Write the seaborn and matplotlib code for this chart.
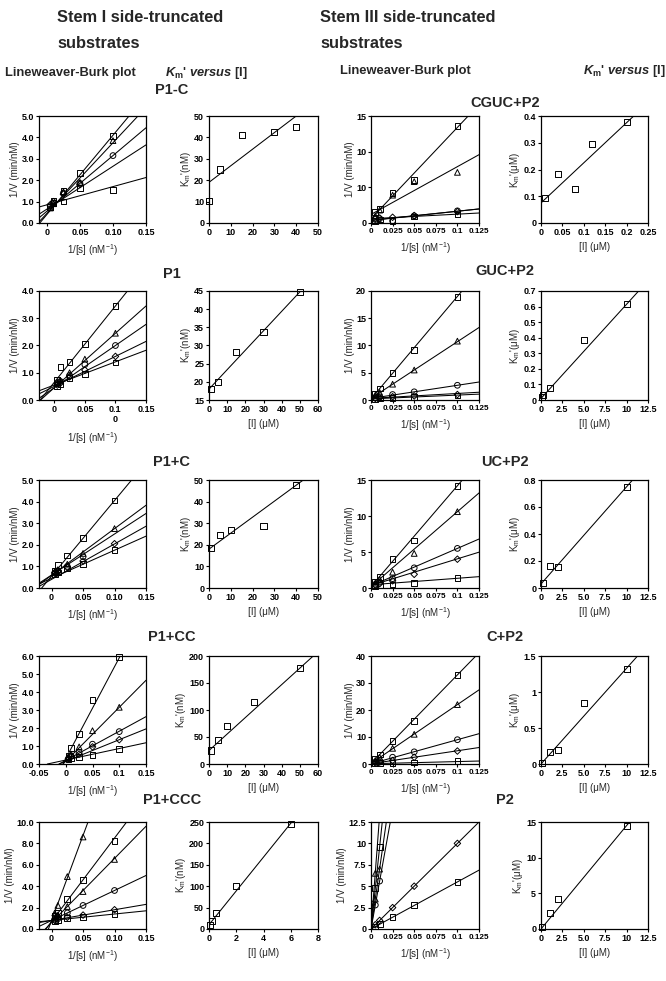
import numpy as np
import pandas as pd
import matplotlib
matplotlib.use("Agg")
import matplotlib.pyplot as plt
import seaborn as sns
from matplotlib import font_manager as fm

NAN = np.nan
LB_X = [0.005, 0.01, 0.025, 0.05, 0.1]

# ---------------- Stem I side-truncated ----------------
P1C_LB_Y = [[0.75, 0.95, 1.5, 2.35, 4.05],
            [0.7, 0.9, 1.45, 1.9, 3.85],
            [0.8, 0.9, 1.4, 1.85, 3.15],
            [0.85, 1.0, 1.35, 1.8, NAN],
            [0.75, 1.05, 1.0, 1.65, 1.55]]
P1C_LB_SLOPE = [37, 33, 26, 20, 8.5]
P1C_LB_INT = [0.4, 0.45, 0.55, 0.65, 0.85]
P1C_KM_X = [0, 5, 15, 30, 40]
P1C_KM_Y = [10.5, 25, 41, 42.5, 45]
P1C_KM_FIT = (0.775, 19)

P1_LB_Y = [[0.75, 1.22, 1.4, 2.05, 3.45],
           [0.65, 0.72, 1.0, 1.5, 2.45],
           [0.6, 0.68, 0.9, 1.3, 2.0],
           [0.55, 0.62, 0.85, 1.1, 1.6],
           [0.5, 0.58, 0.8, 0.95, 1.38]]
P1_LB_SLOPE = [28, 20, 15.5, 11, 8.5]
P1_LB_INT = [0.65, 0.45, 0.45, 0.5, 0.55]
P1_KM_X = [1, 5, 15, 30, 50]
P1_KM_Y = [18, 20, 28.3, 33.8, 44.6]
P1_KM_FIT = (0.535, 18)

P1pC_LB_Y = [[0.8, 1.05, 1.5, 2.3, 4.05],
             [0.75, 0.85, 1.1, 1.6, 2.75],
             [0.7, 0.8, 1.0, 1.45, NAN],
             [0.7, 0.75, 0.95, 1.25, 2.05],
             [0.65, 0.72, 0.9, 1.12, 1.75]]
P1pC_LB_SLOPE = [35, 21.6, 19, 16.4, 13]
P1pC_LB_INT = [0.55, 0.59, 0.6, 0.4, 0.45]
P1pC_KM_X = [1, 5, 10, 25, 40]
P1pC_KM_Y = [18.5, 24.5, 27, 28.5, 47.5]
P1pC_KM_FIT = (0.74, 18)

P1pCC_LB_Y = [[0.45, 0.9, 1.65, 3.55, 5.95],
              [0.35, 0.55, 0.95, 1.85, 3.15],
              [0.3, 0.45, 0.65, 1.1, 1.8],
              [0.3, 0.4, 0.55, 0.95, 1.35],
              [0.25, 0.3, 0.4, 0.5, 0.85]]
P1pCC_LB_SLOPE = [56, 30, 16.2, 12, 6.4]
P1pCC_LB_INT = [0.3, 0.15, 0.2, 0.15, 0.22]
P1pCC_KM_X = [1, 5, 10, 25, 50]
P1pCC_KM_Y = [25, 45, 70, 115, 178]
P1pCC_KM_FIT = (3.05, 25)

P1pCCC_LB_Y = [[1.5, 2.2, 4.9, 8.6, NAN],
               [1.2, 1.5, 2.8, 4.6, 8.2],
               [1.0, 1.3, 2.1, 3.5, 6.5],
               [0.9, 1.1, 1.5, 2.2, 3.6],
               [0.8, 0.9, 1.1, 1.3, 1.8],
               [0.75, 0.85, 1.0, 1.1, 1.4]]
P1pCCC_LB_SLOPE = [159, 78, 60, 28, 10, 6]
P1pCCC_LB_INT = [0.8, 0.7, 0.6, 0.8, 0.8, 0.8]
P1pCCC_KM_X = [0.1, 0.2, 0.5, 2, 6]
P1pCCC_KM_Y = [10, 18, 38, 100, 245]
P1pCCC_KM_FIT = (39.5, 10)

# ---------------- Stem III side-truncated ----------------
CGUC_LB_Y = [[1.5, 2.0, 4.2, 6.0, 13.6],
             [1.0, 1.8, 3.9, 5.8, 7.1],
             [0.5, 0.6, 0.3, 1.0, 1.7],
             [0.6, 0.7, 0.8, 1.05, 1.6],
             [0.3, 0.5, 0.25, 0.9, 1.2]]
CGUC_LB_SLOPE = [128, 67, 13, 12.5, 6.4]
CGUC_LB_INT = [0.6, 1.2, 0.35, 0.4, 0.6]
CGUC_KM_X = [0.01, 0.04, 0.08, 0.12, 0.2]
CGUC_KM_Y = [0.095, 0.183, 0.127, 0.296, 0.377]
CGUC_KM_FIT = (1.5, 0.075)

GUC_LB_Y = [[1.1, 2.1, 4.9, 9.2, 18.9],
            [0.9, 1.4, 2.9, 5.5, 10.8],
            [0.45, 0.6, 1.0, 1.5, 2.7],
            [0.3, 0.4, 0.6, 0.75, 1.0],
            [0.2, 0.3, 0.35, 0.5, 0.85]]
GUC_LB_SLOPE = [188, 104, 24, 9, 7]
GUC_LB_INT = [0.2, 0.3, 0.3, 0.3, 0.2]
GUC_KM_X = [0.1, 0.2, 1, 5, 10]
GUC_KM_Y = [0.02, 0.035, 0.08, 0.385, 0.615]
GUC_KM_FIT = (0.0605, 0.01)

UC_LB_Y = [[0.9, 1.5, 4.0, 6.6, 14.2],
           [0.7, 1.2, 2.2, 4.8, 10.6],
           [0.5, 0.8, 1.3, 2.8, 5.5],
           [0.4, 0.6, 1.0, 1.9, 4.0],
           [0.3, 0.4, 0.5, 0.7, 1.4]]
UC_LB_SLOPE = [140, 104, 52, 37, 9]
UC_LB_INT = [0.2, 0.2, 0.3, 0.35, 0.45]
UC_KM_X = [0.2, 1, 2, 10]
UC_KM_Y = [0.04, 0.16, 0.155, 0.75]
UC_KM_FIT = (0.072, 0.03)

C_LB_Y = [[2.0, 3.5, 8.5, 16, 33],
          [1.3, 2.5, 5.8, 11, 22],
          [0.7, 1.2, 2.5, 4.5, 9],
          [0.4, 0.7, 1.3, 2.5, 4.8],
          [0.2, 0.3, 0.4, 0.6, 1.0]]
C_LB_SLOPE = [328, 218, 89, 48, 8]
C_LB_INT = [0.2, 0.2, 0.1, 0.1, 0.1]
C_KM_X = [0.1, 1, 2, 5, 10]
C_KM_Y = [0.02, 0.17, 0.2, 0.85, 1.32]
C_KM_FIT = (0.133, 0.0)

P2_LB_Y = [[6.5, NAN, NAN, NAN, NAN],
           [4.8, 9.6, NAN, NAN, NAN],
           [3.5, 7.0, NAN, NAN, NAN],
           [2.8, 5.6, NAN, NAN, NAN],
           [0.5, 1.0, 2.5, 5.0, 10.0],
           [0.3, 0.55, 1.4, 2.8, 5.5]]
P2_LB_SLOPE = [1330, 960, 705, 560, 100, 55]
P2_LB_INT = [0, 0, 0, 0, 0, 0]
P2_KM_X = [0.1, 1, 2, 10]
P2_KM_Y = [0.3, 2.2, 4.2, 14.5]
P2_KM_FIT = (1.45, 0.0)

# ---------------- tick labels ----------------
F1 = lambda v: ["%.1f" % t for t in v]
XT_A = [0, 0.05, 0.1, 0.15]
XTL_A = ["0", "0.05", "0.10", "0.15"]
XTL_P1 = ["0", "0.05", "0.1\n0", "0.15"]
XT_CC = [-0.05, 0, 0.05, 0.1, 0.15]
XTL_CC = ["-0.05", "0", "0.05", "0.1", "0.15"]
XT_B = [0, 0.025, 0.05, 0.075, 0.1, 0.125]
XTL_B = ["0", "0.025", "0.05", "0.075", "0.1", "0.125"]
XT_I = [0, 2.5, 5, 7.5, 10, 12.5]
XTL_I = ["0", "2.5", "5.0", "7.5", "10", "12.5"]

# ---------------- style ----------------
sns.set_style("ticks")
names = {f.name for f in fm.fontManager.ttflist}
NARROW = "Liberation Sans Narrow" in names
FONT = "Liberation Sans Narrow" if NARROW else "Liberation Sans"
K = 1.0 if NARROW else 0.84
plt.rcParams["font.family"] = [FONT, "DejaVu Sans"]
plt.rcParams["font.weight"] = "bold"
plt.rcParams["mathtext.fontset"] = "custom"
plt.rcParams["mathtext.rm"] = FONT + ":bold"
plt.rcParams["mathtext.it"] = FONT + ":italic:bold"
plt.rcParams["mathtext.bf"] = FONT + ":bold"
plt.rcParams["mathtext.default"] = "regular"

W, H = 666, 981
fig = plt.figure(figsize=(W / 100, H / 100), dpi=100)
fig.patch.set_facecolor("white")

ROWS = [(116, 223), (291, 400), (480, 588), (656, 764), (822, 929)]
COLS = [(39, 146), (209, 318), (371, 479), (541, 648)]
TICK_FS = 6.5
LAB_FS = 7.0


def make_ax(r, c):
    (t, b), (l, rr) = ROWS[r], COLS[c]
    ax = fig.add_axes([l / W, 1 - b / H, (rr - l) / W, (b - t) / H])
    for s in ax.spines.values():
        s.set_linewidth(0.9)
        s.set_color("black")
    ax.tick_params(direction="out", length=2.5, width=0.8, pad=1,
                   labelsize=TICK_FS, colors="black")
    return ax


def finish(ax, xlim, ylim, xt, xtl, yt, ytl, xlabel, ylabel):
    ax.set_xlim(*xlim)
    ax.set_ylim(*ylim)
    ax.set_xticks(xt)
    ax.set_xticklabels(xtl)
    if len(xt) == 6 and xtl[1] == "0.025":
        for lab in ax.get_xticklabels():
            lab.set_fontsize(5.9)
    ax.set_yticks(yt)
    ax.set_yticklabels(ytl)
    ax.set_xlabel(xlabel if xlabel else "", fontsize=LAB_FS, labelpad=4)
    ax.set_ylabel(ylabel, fontsize=LAB_FS, labelpad=1)


LB_MARKERS = ["s", "^", "o", "D", "s"]
LB_MARKERS6 = ["^", "s", "^", "o", "D", "s"]


def draw_lb(r, c, Y, slopes, ints, xlim, ylim, xt, xtl, yt, ytl):
    ax = make_ax(r, c)
    mk = LB_MARKERS6 if len(Y) == 6 else LB_MARKERS
    for yv, m, b, k in zip(Y, slopes, ints, mk):
        ax.axline((0, b), slope=m, color="black", lw=0.75, zorder=2)
        df = pd.DataFrame({"x": LB_X, "y": yv}).dropna()
        sns.scatterplot(data=df, x="x", y="y", marker=k, s=17 if k != "D" else 11,
                        color="black", facecolor="none", edgecolor="black",
                        linewidth=0.7, ax=ax, zorder=3, clip_on=False)
    finish(ax, xlim, ylim, xt, xtl, yt, ytl,
           r"1/[s] (nM$^{-1}$)", "1/V (min/nM)")
    return ax


def draw_km(r, c, X, Y, fit, xlim, ylim, xt, xtl, yt, ytl, unit, xlabel=True):
    ax = make_ax(r, c)
    ax.axline((0, fit[1]), slope=fit[0], color="black", lw=0.75, zorder=2)
    df = pd.DataFrame({"x": X, "y": Y})
    sns.scatterplot(data=df, x="x", y="y", marker="s", s=19, color="black",
                    facecolor="none", edgecolor="black", linewidth=0.7,
                    ax=ax, zorder=3, clip_on=False)
    finish(ax, xlim, ylim, xt, xtl, yt, ytl,
           "[I] (\u03bcM)" if xlabel else "",
           r"$\mathregular{K_m}$'" + "(" + unit + ")")
    return ax


# Row 1
draw_lb(0, 0, P1C_LB_Y, P1C_LB_SLOPE, P1C_LB_INT, (-0.012, 0.15), (0, 5),
        XT_A, XTL_A, [0, 1, 2, 3, 4, 5], F1([0, 1, 2, 3, 4, 5]))
draw_km(0, 1, P1C_KM_X, P1C_KM_Y, P1C_KM_FIT, (0, 50), (0, 50),
        [0, 10, 20, 30, 40, 50], ["0", "10", "20", "30", "40", "50"],
        [0, 10, 20, 30, 40, 50], ["0", "10", "20", "30", "40", "50"], "nM",
        xlabel=False)
draw_lb(0, 2, CGUC_LB_Y, CGUC_LB_SLOPE, CGUC_LB_INT, (0, 0.125), (0, 15),
        XT_B, XTL_B, [0, 5, 10, 15], ["0", "10", "10", "15"])
draw_km(0, 3, CGUC_KM_X, CGUC_KM_Y, CGUC_KM_FIT, (0, 0.25), (0, 0.4),
        [0, 0.05, 0.1, 0.15, 0.2, 0.25], ["0", "0.05", "0.1", "0.15", "0.2", "0.25"],
        [0, 0.1, 0.2, 0.3, 0.4], ["0", "0.1", "0.2", "0.3", "0.4"], "\u03bcM")

# Row 2
draw_lb(1, 0, P1_LB_Y, P1_LB_SLOPE, P1_LB_INT, (-0.025, 0.15), (0, 4),
        XT_A, XTL_P1, [0, 1, 2, 3, 4], F1([0, 1, 2, 3, 4]))
draw_km(1, 1, P1_KM_X, P1_KM_Y, P1_KM_FIT, (0, 60), (15, 45),
        [0, 10, 20, 30, 40, 50, 60], ["0", "10", "20", "30", "40", "50", "60"],
        [15, 20, 25, 30, 35, 40, 45], ["15", "20", "25", "30", "35", "40", "45"], "nM")
draw_lb(1, 2, GUC_LB_Y, GUC_LB_SLOPE, GUC_LB_INT, (0, 0.125), (0, 20),
        XT_B, XTL_B, [0, 5, 10, 15, 20], ["0", "5", "10", "15", "20"])
draw_km(1, 3, GUC_KM_X, GUC_KM_Y, GUC_KM_FIT, (0, 12.5), (0, 0.7),
        XT_I, XTL_I, [0, 0.1, 0.2, 0.3, 0.4, 0.5, 0.6, 0.7],
        ["0", "0.1", "0.2", "0.3", "0.4", "0.5", "0.6", "0.7"], "\u03bcM")

# Row 3
draw_lb(2, 0, P1pC_LB_Y, P1pC_LB_SLOPE, P1pC_LB_INT, (-0.02, 0.15), (0, 5),
        XT_A, XTL_A, [0, 1, 2, 3, 4, 5], F1([0, 1, 2, 3, 4, 5]))
draw_km(2, 1, P1pC_KM_X, P1pC_KM_Y, P1pC_KM_FIT, (0, 50), (0, 50),
        [0, 10, 20, 30, 40, 50], ["0", "10", "20", "30", "40", "50"],
        [0, 10, 20, 30, 40, 50], ["0", "10", "20", "30", "40", "50"], "nM")
draw_lb(2, 2, UC_LB_Y, UC_LB_SLOPE, UC_LB_INT, (0, 0.125), (0, 15),
        XT_B, XTL_B, [0, 5, 10, 15], ["0", "5", "10", "15"])
draw_km(2, 3, UC_KM_X, UC_KM_Y, UC_KM_FIT, (0, 12.5), (0, 0.8),
        XT_I, XTL_I, [0, 0.2, 0.4, 0.6, 0.8], ["0", "0.2", "0.4", "0.6", "0.8"], "\u03bcM")

# Row 4
draw_lb(3, 0, P1pCC_LB_Y, P1pCC_LB_SLOPE, P1pCC_LB_INT, (-0.05, 0.15), (0, 6),
        XT_CC, XTL_CC, [0, 1, 2, 3, 4, 5, 6], F1([0, 1, 2, 3, 4, 5, 6]))
draw_km(3, 1, P1pCC_KM_X, P1pCC_KM_Y, P1pCC_KM_FIT, (0, 60), (0, 200),
        [0, 10, 20, 30, 40, 50, 60], ["0", "10", "20", "30", "40", "50", "60"],
        [0, 50, 100, 150, 200], ["0", "50", "100", "150", "200"], "nM")
draw_lb(3, 2, C_LB_Y, C_LB_SLOPE, C_LB_INT, (0, 0.125), (0, 40),
        XT_B, XTL_B, [0, 10, 20, 30, 40], ["0", "10", "20", "30", "40"])
draw_km(3, 3, C_KM_X, C_KM_Y, C_KM_FIT, (0, 12.5), (0, 1.5),
        XT_I, XTL_I, [0, 0.5, 1, 1.5], ["0", "0.5", "1", "1.5"], "\u03bcM")

# Row 5
draw_lb(4, 0, P1pCCC_LB_Y, P1pCCC_LB_SLOPE, P1pCCC_LB_INT, (-0.02, 0.15), (0, 10),
        XT_A, XTL_A, [0, 2, 4, 6, 8, 10], F1([0, 2, 4, 6, 8, 10]))
draw_km(4, 1, P1pCCC_KM_X, P1pCCC_KM_Y, P1pCCC_KM_FIT, (0, 8), (0, 250),
        [0, 2, 4, 6, 8], ["0", "2", "4", "6", "8"],
        [0, 50, 100, 150, 200, 250], ["0", "50", "100", "150", "200", "250"], "nM")
draw_lb(4, 2, P2_LB_Y, P2_LB_SLOPE, P2_LB_INT, (0, 0.125), (0, 12.5),
        XT_B, XTL_B, [0, 2.5, 5, 7.5, 10, 12.5], ["0", "2.5", "5", "7.5", "10", "12.5"])
draw_km(4, 3, P2_KM_X, P2_KM_Y, P2_KM_FIT, (0, 12.5), (0, 15),
        XT_I, XTL_I, [0, 5, 10, 15], ["0", "5", "10", "15"], "\u03bcM")

# ---------------- headers ----------------
def ftext(x, y, s, size, ha="left", **kw):
    fig.text(x / W, 1 - y / H, s, fontsize=size * K, ha=ha, va="center",
             fontweight="bold", **kw)

ftext(57, 17, "Stem I side-truncated", 14)
ftext(57, 43, "substrates", 14)
ftext(320, 17, "Stem III side-truncated", 14)
ftext(320, 43, "substrates", 14)
ftext(5, 73, "Lineweaver-Burk plot", 11)
ftext(165, 73, r"$\mathit{K}_{\mathregular{m}}$' $\mathit{versus}$ [I]", 11)
ftext(340, 71, "Lineweaver-Burk plot", 11)
ftext(583, 71, r"$\mathit{K}_{\mathregular{m}}$' $\mathit{versus}$ [I]", 11)

ROW_TITLES_L = ["P1-C", "P1", "P1+C", "P1+CC", "P1+CCC"]
ROW_TITLES_R = ["CGUC+P2", "GUC+P2", "UC+P2", "C+P2", "P2"]
YL = [90, 274, 462, 637, 800]
YR = [103, 271, 462, 637, 800]
for s, y in zip(ROW_TITLES_L, YL):
    ftext(172, y, s, 12.5, ha="center")
for s, y in zip(ROW_TITLES_R, YR):
    ftext(505, y, s, 12.5, ha="center")

fig.savefig("out.png", dpi=100, facecolor="white")
